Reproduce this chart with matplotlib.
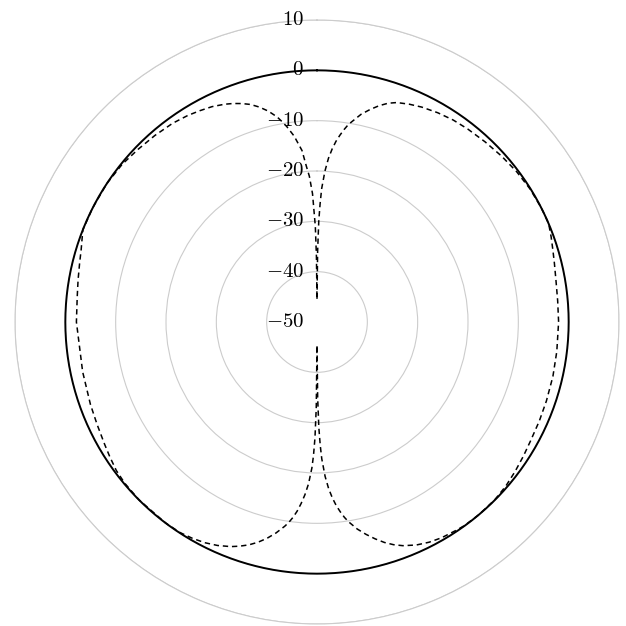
import numpy as np
import matplotlib
matplotlib.use("Agg")
import matplotlib.pyplot as plt

# ---------------- DATA ----------------

# angle in degrees, clockwise from north; gain in dB
pattern_angle = [
    0, 0.5, 1, 1.5, 2, 3, 4, 5, 6, 7, 8, 9, 10, 12, 14, 16, 18, 20, 23, 26,
    30, 34, 38, 43, 48, 53, 58, 63, 67, 70, 73, 76, 80, 85, 90, 97, 103, 109,
    114, 119, 123, 127, 131, 135, 140, 144, 146, 150, 153, 156, 159, 161, 163,
    165, 167, 169, 171, 172, 173, 174, 175, 176, 177, 178, 178.5, 179, 179.5,
    180,
    180.5, 181, 181.5, 182, 183, 184, 185, 186, 187, 188, 189, 191, 193, 195,
    197, 199, 201, 204, 207, 210, 213, 217, 225, 230, 233.5, 237, 240, 245,
    250, 258, 270, 276, 280, 284, 287, 291.5, 297, 303.4, 309, 314, 319, 324,
    328, 331, 334, 337, 339, 341, 343, 345, 347, 349, 350, 351.2, 353, 355,
    356.1, 357, 358, 359, 359.5, 360,
]
pattern_gain = [
    -45.4, -36, -30, -26.5, -23.5, -20, -17.4, -15.5, -13.9, -12.6, -11.4,
    -10.3, -9.5, -7.8, -6.5, -5.3, -4.3, -3.6, -3.0, -2.5,
    -2.0, -1.6, -1.35, -1.05, -0.7, -0.35, -0.1, 0.0, 0.0, -0.5, -1.0, -1.4,
    -1.8, -2.0, -2.0, -2.0, -1.9, -1.8,
    -1.65, -1.45, -1.1, -0.7, -0.3, -0.05, 0.0, -0.05, -0.2, -0.5, -0.9, -1.5,
    -2.4, -3.2, -4.2,
    -5.4, -6.7, -8.1, -9.8, -10.8, -12.0, -13.3, -14.9, -16.8, -19.3, -22.8,
    -25.5, -29, -35,
    -45.4,
    -33, -27, -23.5, -21, -17.8, -15.6, -13.8, -12.2, -10.9, -9.8, -8.9, -7.3,
    -5.9, -4.7,
    -3.7, -2.9, -2.2, -1.4, -0.8, -0.4, -0.1, 0.0, 0.0, -0.15, -0.4, -0.9, -1.3,
    -1.8,
    -2.1, -2.4, -2.2, -2.1, -1.8, -1.4, -1.0, 0.0, 0.0, 0.0, -0.2, -0.6, -0.9,
    -1.2,
    -1.6, -2.0, -2.4, -3.0, -3.5, -4.1, -4.8, -5.8, -7.0, -8.5, -9.5, -10.7,
    -12.8, -15.8,
    -19.0, -21, -24.5, -31, -37, -45.4,
]

ref_angle = np.linspace(0, 360, 361)
ref_gain = np.zeros_like(ref_angle)

r_ticks = [-50, -40, -30, -20, -10, 0, 10]

# ---------------- PLOT ----------------

plt.rcParams["font.family"] = "serif"
plt.rcParams["font.serif"] = ["cmr10", "DejaVu Serif"]
plt.rcParams["mathtext.fontset"] = "cm"

fig = plt.figure(figsize=(6.26, 6.26), dpi=100)
ax = fig.add_axes([15 / 626, 2 / 626, 604 / 626, 604 / 626], projection="polar")

ax.set_theta_zero_location("N")
ax.set_theta_direction(-1)

ax.plot(np.deg2rad(ref_angle), ref_gain, color="black", linewidth=1.4)
ax.plot(np.deg2rad(pattern_angle), pattern_gain, color="black",
        linewidth=1.1, linestyle=(0, (3.5, 2.5)))

ax.set_ylim(-50, 10)
ax.set_yticks(r_ticks)
ax.set_yticklabels([])
ax.set_xticks([])

ax.yaxis.grid(True, color="#cccccc", linewidth=0.8)
ax.xaxis.grid(False)
ax.spines["polar"].set_color("#cccccc")
ax.spines["polar"].set_linewidth(0.8)

for r in r_ticks:
    ax.annotate(f"${r}$", xy=(0, r), xytext=(-13, 0), textcoords="offset pixels",
                ha="right", va="center", fontsize=15)

fig.savefig("out.png", dpi=100)
